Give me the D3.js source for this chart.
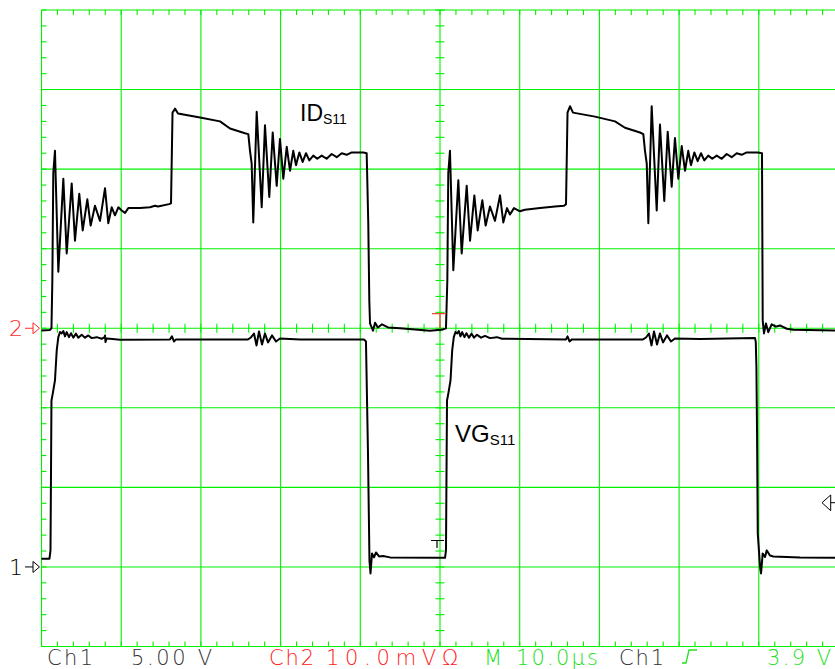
<!DOCTYPE html>
<html>
<head>
<meta charset="utf-8">
<script src="https://cdn.jsdelivr.net/npm/d3@7"></script>
<style>
body{margin:0;background:#fff}
svg{display:block}
text{font-family:"Liberation Sans",Arial,sans-serif}
.readout{font-family:"DejaVu Sans",sans-serif;font-weight:200;font-size:21px}
</style>
</head>
<body>
<div id="root"></div>
<script>
// time in µs, ID in mV (Ch2, 10 mV/div), VG in V (Ch1, 5 V/div)
const idCycle1 = [
  [0,-0.28],[1.07,-0.21],[1.25,0],[1.36,6.0],[1.48,19.5],[1.69,22.3],[2.11,7.1],[2.74,18.8],
  [3.16,9.4],[3.79,18.2],[4.20,11.0],[4.74,16.9],[5.17,12.3],[5.75,16.2],[6.17,12.9],[6.71,15.4],
  [7.34,13.5],[7.97,17.6],[8.38,13.2],[8.81,15.2],[9.22,14.2],[9.64,15.2],[10.06,14.8],[10.48,14.5],
  [10.89,15.1],[12.36,15.1],[13.61,15.2],[14.24,15.4],[14.62,15.3],[16.0,15.6],[16.25,15.7],
  [16.44,27.1],[16.75,27.6],[17.13,27.0],[19.89,26.5],[22.40,26.0],[23.65,25.1],[25.53,24.5],
  [25.95,24.4],[26.16,22.3],[26.37,20.7],[26.57,13.3],[27.0,27.2],[27.63,15.2],[28.04,25.5],
  [28.58,16.5],[29.01,24.6],[29.51,17.9],[29.92,23.8],[30.34,18.8],[30.77,22.8],[31.18,19.8],
  [31.59,22.3],[31.93,20.5],[32.35,22.1],[32.77,20.9],[33.19,22.0],[33.60,21.1],[34.10,21.7],
  [34.60,21.3],[35.16,21.7],[35.78,21.3],[36.41,21.9],[37.04,21.5],[37.67,22.0],[38.29,21.8],
  [38.92,22.1],[40.38,22.1],[40.80,22.0],[41.00,13.2],[41.13,3.5],[41.22,0.6],[41.59,-0.3],
  [41.85,0.7],[42.22,0.1],[42.72,0.5],[43.48,0.1],[44.98,0],[48.74,-0.3],[50.12,-0.2]
]
const idCycle2 = [
  [50.38,-0.15],[50.75,0],[50.92,6.0],[51.04,19.5],[51.25,22.3],[51.67,7.3],[52.30,18.6],
  [52.72,9.4],[53.35,17.9],[53.77,11.0],[54.31,16.7],[54.73,12.3],[55.31,16.1],[55.73,12.9],
  [56.27,15.3],[56.90,13.5],[57.53,16.7],[57.94,13.3],[58.41,15.1],[58.78,14.3],[59.28,15.1],
  [60.03,14.7],[60.66,14.9],[62.55,15.1],[64.43,15.3],[65.56,15.4],[65.81,15.6],[66.0,27.1],
  [66.31,27.9],[66.69,27.1],[69.45,26.6],[71.96,26.0],[73.21,25.2],[75.09,24.6],[75.51,24.4],
  [75.72,22.3],[75.94,20.7],[76.14,13.2],[76.56,27.9],[77.19,14.8],[77.60,25.6],[78.14,16.0],
  [78.57,24.7],[79.07,17.8],[79.48,23.9],[79.90,18.8],[80.33,22.9],[80.74,19.8],[81.15,22.3],
  [81.49,20.5],[81.91,22.1],[82.33,21.0],[82.75,22.0],[83.16,21.1],[83.66,21.7],[84.16,21.3],
  [84.72,21.7],[85.35,21.3],[85.97,21.9],[86.60,21.5],[87.23,22.0],[87.85,21.8],[88.48,22.1],
  [89.90,22.1],[90.40,22.0],[90.49,1.0],[90.65,-0.65],[90.90,0.6],[91.19,-0.5],[91.61,0.5],
  [92.15,0.2],[92.65,0.35],[93.5,-0.06],[94.33,-0.19],[99.56,-0.28]
]
const vgCycle1 = [
  [0,0.52],[1.0,0.52],[1.13,1.04],[1.25,10.46],[1.44,10.97],[1.69,11.72],[1.91,13.61],[2.11,14.44],
  [2.32,14.76],[2.53,14.68],[2.74,14.82],[2.95,14.49],[3.16,14.76],[3.45,14.44],[3.70,14.69],
  [3.99,14.41],[4.33,14.66],[4.62,14.41],[5.04,14.59],[5.46,14.41],[5.87,14.55],[6.30,14.38],
  [6.93,14.44],[7.55,14.34],[7.9,14.43],[7.97,14.55],[8.03,14.13],[8.16,14.36],[8.59,14.34],
  [9.85,14.28],[16.12,14.30],[16.37,14.49],[16.62,14.17],[16.88,14.30],[25.91,14.30],[26.28,14.42],
  [26.66,14.67],[26.98,13.92],[27.29,14.80],[27.67,13.98],[28.04,14.67],[28.42,14.11],[28.92,14.55],
  [29.42,14.17],[29.92,14.36],[32.43,14.30],[40.46,14.30],[40.71,14.17],[40.96,7.32],[41.15,0.41],
  [41.28,-0.41],[41.47,0.85],[41.72,0.60],[41.97,0.91],[42.35,0.66],[42.85,0.69],[43.73,0.60],
  [50.12,0.57]
]
const vgCycle2 = [
  [50.38,0.57],[50.63,0.57],[50.75,1.04],[50.88,10.46],[51.07,10.97],[51.32,11.72],[51.53,13.61],
  [51.73,14.44],[51.94,14.76],[52.16,14.68],[52.36,14.82],[52.57,14.49],[52.78,14.76],[53.07,14.44],
  [53.32,14.69],[53.64,14.41],[53.95,14.66],[54.27,14.41],[54.64,14.59],[55.15,14.41],[55.65,14.52],
  [56.27,14.38],[57.15,14.44],[57.78,14.34],[65.81,14.30],[66.0,14.49],[66.25,14.17],[66.56,14.30],
  [75.47,14.30],[75.85,14.42],[76.22,14.67],[76.54,13.92],[76.85,14.80],[77.23,13.98],[77.60,14.67],
  [77.98,14.11],[78.48,14.55],[78.98,14.17],[79.48,14.36],[82.62,14.33],[89.53,14.38],[89.62,14.13],
  [89.70,12.60],[89.78,8.39],[89.87,2.11],[90.16,-0.01],[90.28,-0.41],[90.49,0.85],[90.78,0.62],
  [90.99,1.04],[91.40,0.72],[91.82,0.66],[95.17,0.60],[99.56,0.58]
]

const readoutText = ["Ch1", "5.00 V", "Ch2", "10.0mVΩ", "M", "10.0µs", "Ch1", "3.9 V"]
const traceLabels = [["ID", "S11"], ["VG", "S11"]]

function drawScope() {
    const w = 835, h = 669

    const x = d3.scaleLinear().domain([0, 100]).range([41.5, 838.5])
    const yDiv = d3.scaleLinear().domain([-4, 4]).range([646.5, 10])
    // channel offsets: Ch2 ground at 0 div, Ch1 ground at -3 div
    const yId = v => yDiv(v / 10)
    const yVg = v => yDiv(v / 5 - 3)

    const svg = d3.select("#root").append("svg")
        .attr("width", w)
        .attr("height", h)

    const green = "#00f000"

    //grid
    const grid = svg.append("g").attr("stroke", green).attr("stroke-width", 1.1)
    grid.selectAll("line.v").data(d3.range(0, 11)).enter().append("line")
        .attr("x1", d => x(d * 10)).attr("x2", d => x(d * 10))
        .attr("y1", yDiv(4)).attr("y2", yDiv(-4))
    grid.selectAll("line.h").data(d3.range(-4, 5)).enter().append("line")
        .attr("x1", x(0)).attr("x2", x(100))
        .attr("y1", d => yDiv(d)).attr("y2", d => yDiv(d))

    // minor ticks, 5 per division
    const xt = d3.range(0, 100.01, 2)
    const yt = d3.range(-4, 4.01, 0.2)
    const tick = (x1, y1, x2, y2) => grid.append("line").attr("x1", x1).attr("y1", y1).attr("x2", x2).attr("y2", y2)
    xt.forEach(t => {
        tick(x(t), yDiv(0) - 4.5, x(t), yDiv(0) + 4.5)
        tick(x(t), yDiv(4), x(t), yDiv(4) + 5)
        tick(x(t), yDiv(-4), x(t), yDiv(-4) - 5)
    })
    yt.forEach(d => {
        tick(x(50) - 4.5, yDiv(d), x(50) + 4.5, yDiv(d))
        tick(x(0), yDiv(d), x(0) + 5, yDiv(d))
    })

    //traces
    const line = fy => d3.line().x(d => x(d[0])).y(d => fy(d[1]))
    svg.append("path").datum(idCycle1.concat(idCycle2))
        .attr("d", line(yId))
        .attr("fill", "none").attr("stroke", "#000").attr("stroke-width", 2)
        .attr("stroke-linejoin", "round")
    svg.append("path").datum(vgCycle1.concat(vgCycle2))
        .attr("d", line(yVg))
        .attr("fill", "none").attr("stroke", "#000").attr("stroke-width", 2)
        .attr("stroke-linejoin", "round")

    // trace labels
    const lab = [{x: 300, y: 121, s: 23, ss: 14}, {x: 455, y: 442, s: 24, ss: 15}]
    traceLabels.forEach((t, i) => {
        const el = svg.append("text").attr("x", lab[i].x).attr("y", lab[i].y)
            .attr("font-size", lab[i].s).attr("fill", "#000")
        el.append("tspan").text(t[0])
        el.append("tspan").attr("font-size", lab[i].ss).attr("dy", 3).text(t[1])
    })

    // channel ground markers
    const marker = (yy, col, label) => {
        const g = svg.append("g").attr("stroke", col).attr("fill", "#fff").attr("stroke-width", 1)
        g.append("line").attr("x1", 25).attr("x2", 33).attr("y1", yy).attr("y2", yy)
        g.append("path").attr("d", `M33,${yy - 5.5}L39.5,${yy}L33,${yy + 5.5}Z`)
        svg.append("text").attr("x", 9).attr("y", yy + 8)
            .attr("class", "readout").style("font-size", "22px")
            .attr("fill", col).text(label)
    }
    marker(yDiv(0), "#ff2a2a", "2")
    marker(yDiv(-3), "#000", "1")

    // trigger markers
    svg.append("path").attr("d", `M432,313.7H446M440,313.7V${yDiv(0)}`)
        .attr("stroke", "#ff4040").attr("fill", "none").attr("stroke-width", 1.2)
    svg.append("path").attr("d", "M431,540.5H444M437,540.5V548")
        .attr("stroke", "#000").attr("fill", "none").attr("stroke-width", 1.2)
    svg.append("path").attr("d", "M830.7,495L822,502.7L830.7,510.7ZM830.7,502.7H836")
        .attr("stroke", "#000").attr("fill", "#fff").attr("stroke-width", 1)

    // readouts along the bottom
    const pos = [[47, 46, "#333"], [131, 81, "#333"], [269, 45, "#ff2020"], [326, 132, "#ff2020"],
        [484, 17, "#22e022"], [516, 82, "#22e022"], [619, 45, "#333"], [767, 64, "#22e022"]]
    readoutText.forEach((t, i) => {
        svg.append("text").attr("class", "readout")
            .attr("x", pos[i][0]).attr("y", 665)
            .attr("textLength", pos[i][1]).attr("lengthAdjust", "spacing")
            .attr("fill", pos[i][2]).text(t)
    })
    // trigger slope symbol
    svg.append("path").attr("d", "M682,663H686L689,650H697")
        .attr("stroke", "#22e022").attr("fill", "none").attr("stroke-width", 1.3)
}

drawScope()
</script>
</body>
</html>
